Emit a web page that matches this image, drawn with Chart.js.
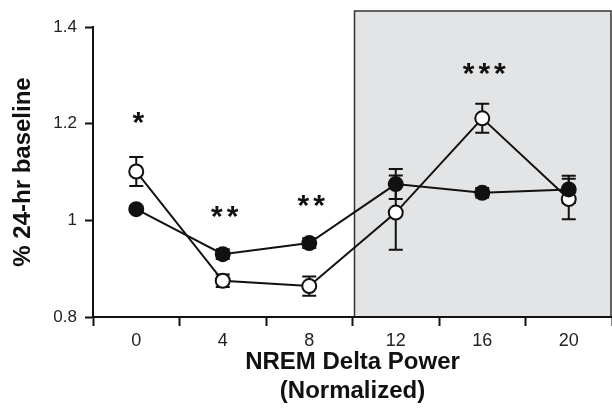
<!DOCTYPE html>
<html>
<head>
<meta charset="utf-8">
<script src="https://cdn.jsdelivr.net/npm/chart.js@4"></script>
<style>
  html, body { margin: 0; padding: 0; background: #fff; }
  #wrap { width: 612px; height: 410px; }
</style>
</head>
<body>
<div id="wrap"><canvas id="chart" width="612" height="410"></canvas></div>
<script>
// x categories (NREM delta power, normalized)
const deltaBins = ["0", "4", "8", "12", "16", "20"]

// filled circles
const filledMean = [1.023, 0.930, 0.953, 1.075, 1.057, 1.064]
const filledErr = [0.006, 0.010, 0.010, 0.031, 0.010, 0.028]

// open circles
const openMean = [1.101, 0.875, 0.864, 1.016, 1.211, 1.044]
const openErr = [0.030, 0.013, 0.020, 0.077, 0.030, 0.042]

// significance marks
const starText = ["*", "**", "**", "", "***", ""]
const starY = [1.211, 1.016, 1.039, null, 1.312, null]

const yTicks = [0.8, 1, 1.2, 1.4]

const ink = "#111"
const fontFamily = "'Liberation Sans', Arial, Helvetica, sans-serif"

Chart.defaults.font.family = fontFamily
Chart.defaults.color = "#222"

// grey panel behind the high-delta bins
const shadePanel = {
    id: "shadePanel",
    beforeDraw(chart) {
        const { ctx, chartArea } = chart
        const x = chart.scales.x
        const left = (x.getPixelForTick(2) + x.getPixelForTick(3)) / 2 + 2
        const top = chartArea.top - 16
        ctx.save()
        ctx.fillStyle = "#e3e4e6"
        ctx.fillRect(left, top, chartArea.right - 1 - left, chartArea.bottom - top)
        ctx.strokeStyle = "#333"
        ctx.lineWidth = 1.5
        ctx.strokeRect(left, top, chartArea.right - 1 - left, chartArea.bottom - top)
        ctx.restore()
    },
}

// vertical error bars with caps
const errorBars = {
    id: "errorBars",
    beforeDatasetsDraw(chart) {
        const { ctx } = chart
        const x = chart.scales.x
        const y = chart.scales.y
        const sets = [
            [filledMean, filledErr],
            [openMean, openErr],
        ]
        ctx.save()
        ctx.strokeStyle = ink
        ctx.lineWidth = 2
        sets.forEach(([mean, err]) => {
            mean.forEach((m, i) => {
                const px = x.getPixelForValue(i)
                const hi = y.getPixelForValue(m + err[i])
                const lo = y.getPixelForValue(m - err[i])
                ctx.beginPath()
                ctx.moveTo(px, hi)
                ctx.lineTo(px, lo)
                ctx.moveTo(px - 7, hi)
                ctx.lineTo(px + 7, hi)
                ctx.moveTo(px - 7, lo)
                ctx.lineTo(px + 7, lo)
                ctx.stroke()
            })
        })
        ctx.restore()
    },
}

// asterisks above the points
const stars = {
    id: "stars",
    afterDatasetsDraw(chart) {
        const { ctx } = chart
        const x = chart.scales.x
        const y = chart.scales.y
        const size = 30
        ctx.save()
        ctx.fillStyle = ink
        ctx.font = "bold " + size + "px " + fontFamily
        ctx.textAlign = "center"
        ctx.textBaseline = "alphabetic"
        ctx.letterSpacing = "4px"
        starText.forEach((s, i) => {
            if (!s) return
            const px = x.getPixelForValue(i) + 4
            const py = y.getPixelForValue(starY[i])
            ctx.fillText(s, px, py + size * 0.45)
        })
        ctx.restore()
    },
}

new Chart(document.getElementById("chart"), {
    type: "line",
    data: {
        labels: deltaBins,
        datasets: [
            {
                label: "filled",
                data: filledMean,
                borderColor: ink,
                borderWidth: 2,
                pointRadius: 7,
                pointBorderWidth: 2,
                pointBackgroundColor: ink,
                pointBorderColor: ink,
                tension: 0,
            },
            {
                label: "open",
                data: openMean,
                borderColor: ink,
                borderWidth: 2,
                pointRadius: 7,
                pointBorderWidth: 2,
                pointBackgroundColor: "#fff",
                pointBorderColor: ink,
                tension: 0,
            },
        ],
    },
    options: {
        responsive: false,
        animation: false,
        layout: {
            autoPadding: false,
            padding: { top: 27, right: 0, bottom: 0, left: 0 },
        },
        plugins: {
            legend: { display: false },
            tooltip: { enabled: false },
        },
        scales: {
            x: {
                type: "category",
                offset: true,
                grid: {
                    offset: true,
                    drawOnChartArea: false,
                    drawTicks: true,
                    tickLength: 9,
                    tickWidth: 2,
                    tickColor: ink,
                },
                border: { color: ink, width: 2 },
                ticks: {
                    padding: 4,
                    font: { size: 18 },
                    color: "#222",
                    maxRotation: 0,
                },
                title: {
                    display: true,
                    text: ["NREM Delta Power", "(Normalized)"],
                    font: { size: 24, weight: "bold", lineHeight: 1.2 },
                    color: ink,
                    padding: { top: 0, bottom: 4 },
                },
                afterFit(scale) {
                    scale.height = 93
                    scale.paddingLeft = 0
                    scale.paddingRight = 0
                },
            },
            y: {
                min: 0.8,
                max: 1.4,
                afterBuildTicks(scale) {
                    scale.ticks = yTicks.map((v) => ({ value: v }))
                },
                grid: {
                    drawOnChartArea: false,
                    drawTicks: true,
                    tickLength: 8,
                    tickWidth: 2,
                    tickColor: ink,
                },
                border: { color: ink, width: 2 },
                ticks: {
                    padding: 8,
                    font: { size: 17 },
                    color: "#222",
                    callback: (v) => String(Math.round(v * 10) / 10),
                },
                title: {
                    display: true,
                    text: "% 24-hr baseline",
                    font: { size: 24, weight: "bold", lineHeight: 1.2 },
                    color: ink,
                    padding: { top: 9, bottom: 0 },
                },
                afterFit(scale) {
                    scale.width = 93
                    scale.paddingTop = 0
                    scale.paddingBottom = 0
                },
            },
        },
    },
    plugins: [shadePanel, errorBars, stars],
})
</script>
</body>
</html>
